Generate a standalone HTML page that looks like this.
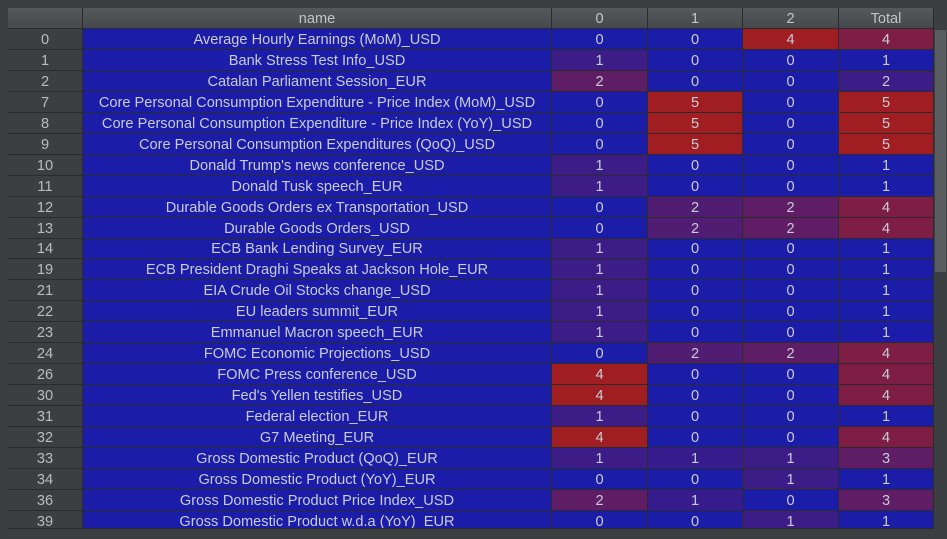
<!DOCTYPE html>
<html><head><meta charset="utf-8"><style>
body{margin:0;width:947px;height:539px;background:#3c3f41;overflow:hidden;font-family:"Liberation Sans",sans-serif;position:relative}
.c{position:absolute;box-sizing:border-box;font-size:14.6px;color:#c9cbd8;text-align:center;border-right:1px solid #2b2b2b;border-bottom:1px solid #2b2b2b;white-space:nowrap;overflow:hidden}
.h{background:linear-gradient(#55595b,#45494b);color:#c0c4c8}
.ix{background:#3c3f41;color:#bbbbbb}
</style></head><body>
<div id="tbl"></div>
<div style="position:absolute;left:934px;top:29px;width:13px;height:500px;background:#3c3f41"></div>
<div style="position:absolute;left:935px;top:30px;width:11px;height:242px;background:#5a5d5f"></div>
<script>
const idx=[0,1,2,7,8,9,10,11,12,13,14,19,21,22,23,24,26,30,31,32,33,34,36,39];
const names=["Average Hourly Earnings (MoM)_USD","Bank Stress Test Info_USD","Catalan Parliament Session_EUR","Core Personal Consumption Expenditure - Price Index (MoM)_USD","Core Personal Consumption Expenditure - Price Index (YoY)_USD","Core Personal Consumption Expenditures (QoQ)_USD","Donald Trump's news conference_USD","Donald Tusk speech_EUR","Durable Goods Orders ex Transportation_USD","Durable Goods Orders_USD","ECB Bank Lending Survey_EUR","ECB President Draghi Speaks at Jackson Hole_EUR","EIA Crude Oil Stocks change_USD","EU leaders summit_EUR","Emmanuel Macron speech_EUR","FOMC Economic Projections_USD","FOMC Press conference_USD","Fed's Yellen testifies_USD","Federal election_EUR","G7 Meeting_EUR","Gross Domestic Product (QoQ)_EUR","Gross Domestic Product (YoY)_EUR","Gross Domestic Product Price Index_USD","Gross Domestic Product w.d.a (YoY)_EUR"];
const col0=[0,1,2,0,0,0,1,1,0,0,1,1,1,1,1,0,4,4,1,4,1,0,2,0];
const col1=[0,0,0,5,5,5,0,0,2,2,0,0,0,0,0,2,0,0,0,0,1,0,1,0];
const col2=[4,0,0,0,0,0,0,0,2,2,0,0,0,0,0,2,0,0,0,0,1,1,0,1];
const total=[4,1,2,5,5,5,1,1,4,4,1,1,1,1,1,4,4,4,1,4,3,1,3,1];
const headers=["","name","0","1","2","Total"];
const xs=[8,83,552,648,743,839,934];
const T=document.getElementById('tbl');
function color(v,arr){const mn=Math.min(...arr),mx=Math.max(...arr);const t=mx>mn?(v-mn)/(mx-mn):0;
const a=[27,28,168],b=[160,30,34];return `rgb(${a.map((x,i)=>Math.round(x+(b[i]-x)*t)).join(',')})`;}
function cell(x,y,w,h,lh,txt,cls,bg,name,inter){const d=document.createElement('div');d.className='c '+cls;
d.style.left=x+'px';d.style.top=y+'px';d.style.width=w+'px';d.style.height=h+'px';d.style.lineHeight=lh+'px';d.style.paddingTop='1px';
if(bg)d.style.background=bg;d.textContent=txt;


T.appendChild(d);}
headers.forEach((h,i)=>cell(xs[i],8,xs[i+1]-xs[i],21,20,h,'h',null,'header-'+(h||'index').toLowerCase(),'true'));
const RH=20.95;const cols=[col0,col1,col2,total];
idx.forEach((r,k)=>{const y=Math.round(29+k*RH);const full=Math.round(29+(k+1)*RH)-y;let h=full;if(y+h>529)h=529-y;const lh=full-1;
cell(xs[0],y,xs[1]-xs[0],h,lh,String(r),'ix',null,'row-index','false');
cell(xs[1],y,xs[2]-xs[1],h,lh,names[k],'','#1b1ca8','event-name','true');
cols.forEach((c,j)=>cell(xs[2+j],y,xs[3+j]-xs[2+j],h,lh,String(c[k]),'',color(c[k],c),'value-cell','true'));});
</script>
</body></html>
